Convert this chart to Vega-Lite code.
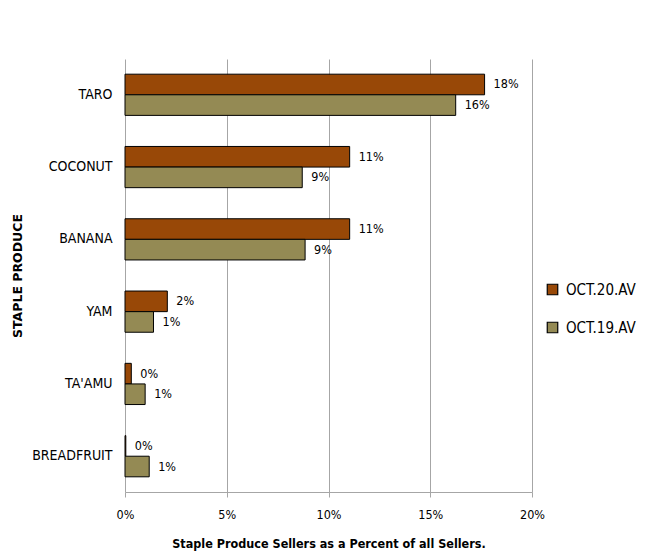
{
  "$schema": "https://vega.github.io/schema/vega-lite/v6.json",
  "width": 407,
  "height": 433,
  "autosize": "none",
  "padding": {"left": 125, "top": 59, "right": 121, "bottom": 62},
  "background": "white",
  "data": {
    "values": [
      {"produce": "TARO", "series": "OCT.20.AV", "value": 0.1767},
      {"produce": "TARO", "series": "OCT.19.AV", "value": 0.1625},
      {"produce": "COCONUT", "series": "OCT.20.AV", "value": 0.1104},
      {"produce": "COCONUT", "series": "OCT.19.AV", "value": 0.0871},
      {"produce": "BANANA", "series": "OCT.20.AV", "value": 0.1104},
      {"produce": "BANANA", "series": "OCT.19.AV", "value": 0.0885},
      {"produce": "YAM", "series": "OCT.20.AV", "value": 0.0208},
      {"produce": "YAM", "series": "OCT.19.AV", "value": 0.014},
      {"produce": "TA'AMU", "series": "OCT.20.AV", "value": 0.0031},
      {"produce": "TA'AMU", "series": "OCT.19.AV", "value": 0.0099},
      {"produce": "BREADFRUIT", "series": "OCT.20.AV", "value": 0.0004},
      {"produce": "BREADFRUIT", "series": "OCT.19.AV", "value": 0.0119}
    ]
  },
  "encoding": {
    "y": {
      "field": "produce",
      "type": "nominal",
      "sort": ["TARO", "COCONUT", "BANANA", "YAM", "TA'AMU", "BREADFRUIT"],
      "scale": {"paddingInner": 0.43, "paddingOuter": 0.21},
      "axis": {
        "title": "STAPLE PRODUCE",
        "titleFont": "DejaVu Sans",
        "titleFontWeight": "bold",
        "titleFontSize": 12.5,
        "titleColor": "black",
        "titleX": -101,
        "labelFont": "DejaVu Sans Condensed",
        "labelFontSize": 14,
        "labelColor": "black",
        "labelPadding": 13,
        "ticks": false,
        "domain": false
      }
    },
    "yOffset": {"field": "series", "type": "nominal", "sort": ["OCT.20.AV", "OCT.19.AV"]},
    "x": {
      "field": "value",
      "type": "quantitative",
      "scale": {"domain": [0, 0.2]},
      "axis": {
        "title": "Staple Produce Sellers as a Percent of all Sellers.",
        "titleFont": "DejaVu Sans Condensed",
        "titleFontWeight": "bold",
        "titleFontSize": 12.5,
        "titleColor": "black",
        "titlePadding": 17,
        "format": ".0%",
        "values": [0, 0.05, 0.1, 0.15, 0.2],
        "labelFont": "DejaVu Sans Condensed",
        "labelFontSize": 12.5,
        "labelColor": "black",
        "labelPadding": 11,
        "labelFlush": false,
        "grid": true,
        "gridColor": "#a6a6a6",
        "domainColor": "#a6a6a6",
        "tickColor": "#a6a6a6",
        "tickSize": 5
      }
    }
  },
  "layer": [
    {
      "mark": {"type": "bar", "stroke": "black", "strokeWidth": 1},
      "encoding": {
        "color": {
          "field": "series",
          "type": "nominal",
          "scale": {"domain": ["OCT.20.AV", "OCT.19.AV"], "range": ["#984807", "#948a54"]},
          "legend": {
            "title": null,
            "orient": "none",
            "legendX": 420,
            "legendY": 223,
            "symbolType": "square",
            "symbolSize": 110,
            "symbolStrokeColor": "black",
            "symbolStrokeWidth": 1.2,
            "labelFont": "DejaVu Sans Condensed",
            "labelFontSize": 15,
            "labelColor": "black",
            "rowPadding": 21,
            "labelOffset": 6
          }
        }
      }
    },
    {
      "mark": {"type": "text", "align": "left", "dx": 9, "font": "DejaVu Sans Condensed", "fontSize": 12.5, "color": "black"},
      "encoding": {
        "text": {"field": "value", "type": "quantitative", "format": ".0%"}
      }
    }
  ],
  "config": {"view": {"stroke": null}}
}
